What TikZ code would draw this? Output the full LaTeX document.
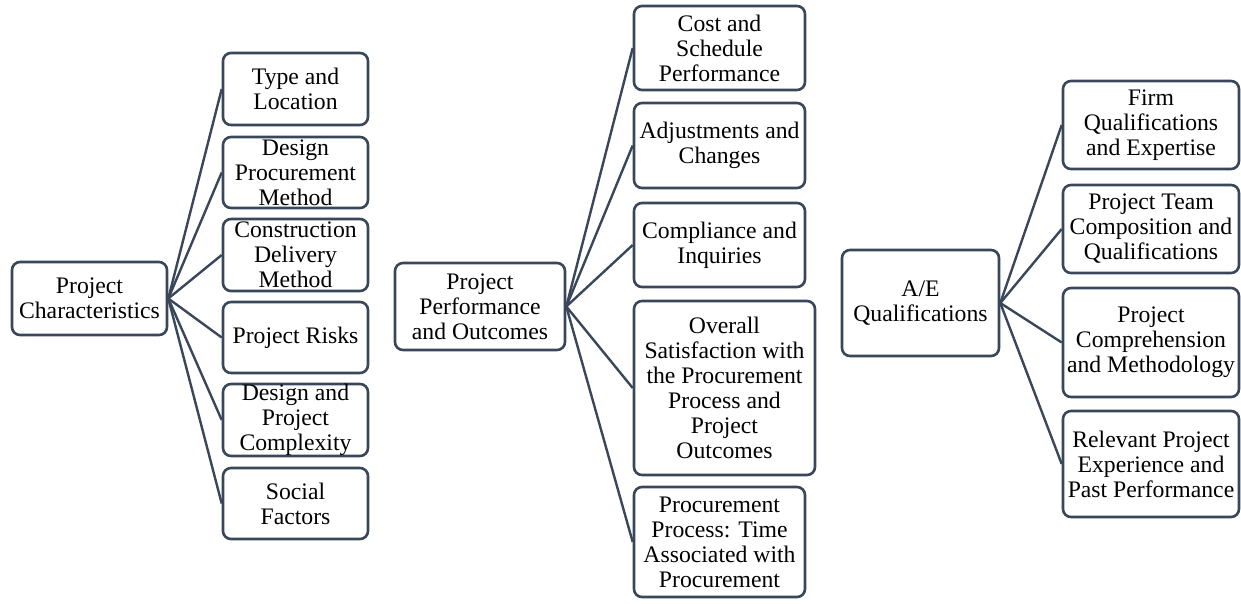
\documentclass[tikz,border=0pt]{standalone}
\usepackage{fontspec}
\setmainfont{Liberation Serif}
\definecolor{edge}{HTML}{3A475A}
\tikzset{
  box/.style={draw=edge, line width=2.6pt, rounded corners=8pt, fill=white,
    inner sep=0pt, align=center, font=\fontsize{23.7}{25}\selectfont},
  link/.style={draw=edge, line width=2.4pt}
}
\begin{document}
\begin{tikzpicture}[x=1pt, y=-1pt]
  \fill[white] (0,0) rectangle (1241,603);
  \useasboundingbox (0,0) rectangle (1241,603);

  % Project characteristics
  \node[box, minimum width=155, minimum height=73] (pc) at (89.5,298.5) {Project\\Characteristics};
  \node[box, minimum width=145, minimum height=72] (pc1) at (295.5,89) {Type and\\Location};
  \node[box, minimum width=145, minimum height=71] (pc2) at (295.5,172.5) {Design\\Procurement\\Method};
  \node[box, minimum width=145, minimum height=72] (pc3) at (295.5,255) {Construction\\Delivery\\Method};
  \node[box, minimum width=145, minimum height=71] (pc4) at (295.5,337.5) {Project Risks};
  \node[box, minimum width=145, minimum height=72] (pc5) at (295.5,420) {Design and\\Project\\Complexity};
  \node[box, minimum width=145, minimum height=71] (pc6) at (295.5,503.5) {Social\\Factors};

  % Project performance and outcomes
  \node[box, minimum width=170, minimum height=87] (pp) at (480,306.5) {Project\\Performance\\and Outcomes};
  \node[box, minimum width=171, minimum height=84] (pp1) at (719.5,48) {Cost and\\Schedule\\Performance};
  \node[box, minimum width=171, minimum height=85] (pp2) at (719.5,145.5) {Adjustments and\\Changes};
  \node[box, minimum width=171, minimum height=84] (pp3) at (719.5,245) {Compliance and\\Inquiries};
  \node[box, minimum width=181, minimum height=174] (pp4) at (724.5,388) {Overall\\Satisfaction with\\the Procurement\\Process and\\Project\\Outcomes};
  \node[box, minimum width=171, minimum height=110] (pp5) at (719.5,542) {Procurement\\Process: Time\\Associated with\\Procurement};

  % A/E qualifications
  \node[box, minimum width=157, minimum height=106] (ae) at (920.5,303) {A/E\\Qualifications};
  \node[box, minimum width=176, minimum height=88] (ae1) at (1151,125) {Firm\\Qualifications\\and Expertise};
  \node[box, minimum width=176, minimum height=88] (ae2) at (1151,229) {Project Team\\Composition and\\Qualifications};
  \node[box, minimum width=176, minimum height=109] (ae3) at (1151,342.5) {Project\\Comprehension\\and Methodology};
  \node[box, minimum width=176, minimum height=106] (ae4) at (1151,464) {Relevant Project\\Experience and\\Past Performance};

  % Connectors
  \foreach \c in {pc1,pc2,pc3,pc4,pc5,pc6} \draw[link] (pc.east) -- (\c.west);
  \foreach \c in {pp1,pp2,pp3,pp4,pp5} \draw[link] (pp.east) -- (\c.west);
  \foreach \c in {ae1,ae2,ae3,ae4} \draw[link] (ae.east) -- (\c.west);
\end{tikzpicture}
\end{document}
